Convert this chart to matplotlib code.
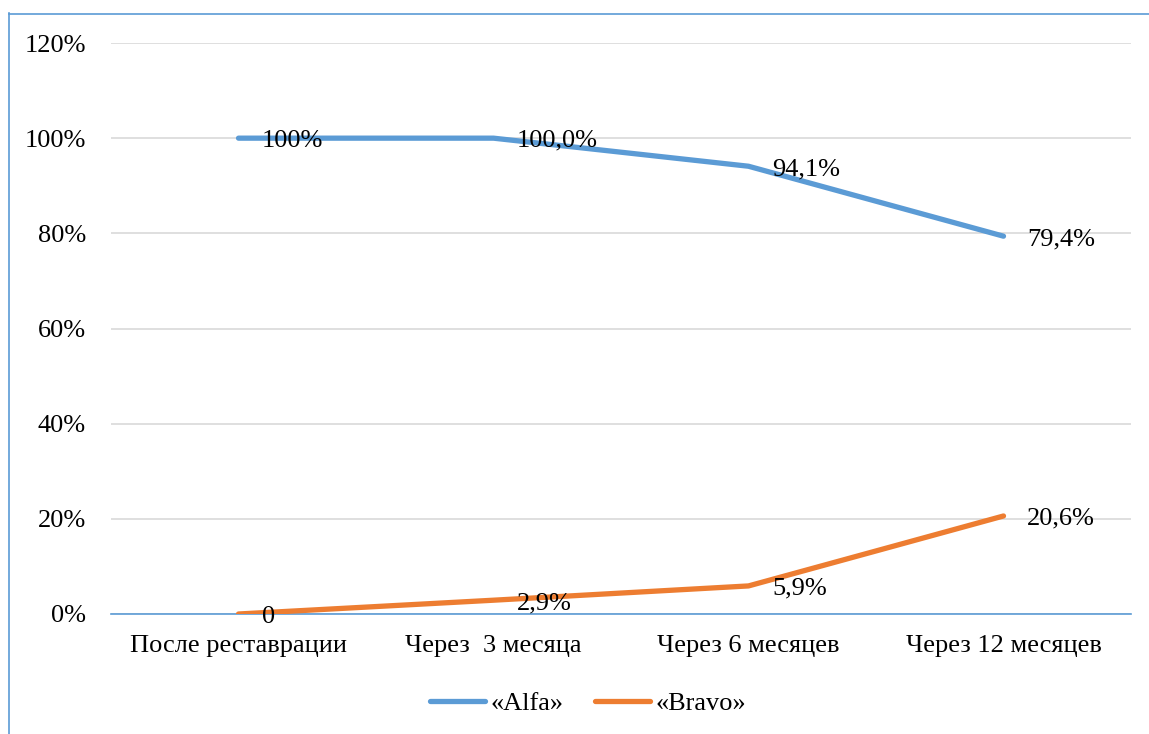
import matplotlib
matplotlib.use("Agg")
import matplotlib.pyplot as plt
from matplotlib.lines import Line2D

categories = ["После реставрации", "Через  3 месяца", "Через 6 месяцев", "Через 12 месяцев"]
alfa = [100.0, 100.0, 94.1, 79.4]
bravo = [0.0, 2.9, 5.9, 20.6]
alfa_labels = ["100%", "100,0%", "94,1%", "79,4%"]
bravo_labels = ["0", "2,9%", "5,9%", "20,6%"]
yticks = [0, 20, 40, 60, 80, 100, 120]
ytick_labels = ["0%", "20%", "40%", "60%", "80%", "100%", "120%"]

BLUE = "#5B9BD5"
ORANGE = "#ED7D31"
W, H = 1149, 734
FS = 19
plt.rcParams["font.family"] = ["Liberation Serif", "DejaVu Serif"]

fig = plt.figure(figsize=(W / 100, H / 100), dpi=100)
ax = fig.add_axes([111 / W, 120 / H, (1131 - 111) / W, (614 - 43) / H])

x = list(range(len(categories)))
ax.plot(x, alfa, color=BLUE, lw=3.8, solid_capstyle="round", solid_joinstyle="round", label="«Alfa»", zorder=3)
ax.plot(x, bravo, color=ORANGE, lw=3.8, solid_capstyle="round", solid_joinstyle="round", label="«Bravo»", zorder=3)

for xi, v, t in zip(x, alfa, alfa_labels):
    ax.annotate(t, (xi, v), xytext=(17, -2), textcoords="offset points",
                ha="left", va="center", fontsize=FS, color="black", zorder=4)
for xi, v, t in zip(x, bravo, bravo_labels):
    ax.annotate(t, (xi, v), xytext=(17, -2), textcoords="offset points",
                ha="left", va="center", fontsize=FS, color="black", zorder=4)

ax.set_xlim(-0.5, len(categories) - 0.5)
ax.set_ylim(0, 120)
ax.set_yticks(yticks)
ax.set_yticklabels(ytick_labels, fontsize=FS)
ax.set_xticks(x)
ax.set_xticklabels(categories, fontsize=FS)
ax.tick_params(axis="y", length=0, pad=18)
ax.tick_params(axis="x", length=0, pad=15)
ax.grid(axis="y", color="#D9D9D9", lw=1.2)
ax.set_axisbelow(True)
for s in ["top", "right", "left"]:
    ax.spines[s].set_visible(False)
ax.spines["bottom"].set_color(BLUE)
ax.spines["bottom"].set_linewidth(1.2)
ax.spines["bottom"].set_zorder(2)

handles = [Line2D([], [], color=BLUE, lw=3.8, solid_capstyle="round"),
           Line2D([], [], color=ORANGE, lw=3.8, solid_capstyle="round")]
fig.legend(handles, ["«Alfa»", "«Bravo»"], loc="center", bbox_to_anchor=(588 / W, 1 - 703 / H),
           ncol=2, frameon=False, fontsize=FS, handlelength=2.1, handletextpad=0.2, columnspacing=1.2)

# chart border (left and top visible)
fig.add_artist(Line2D([8.5 / W, 8.5 / W], [0, 1 - 13 / H], color=BLUE, lw=1.2, transform=fig.transFigure))
fig.add_artist(Line2D([8.5 / W, 1], [1 - 13.5 / H, 1 - 13.5 / H], color=BLUE, lw=1.2, transform=fig.transFigure))

fig.savefig("out.png", dpi=100, facecolor="white")
